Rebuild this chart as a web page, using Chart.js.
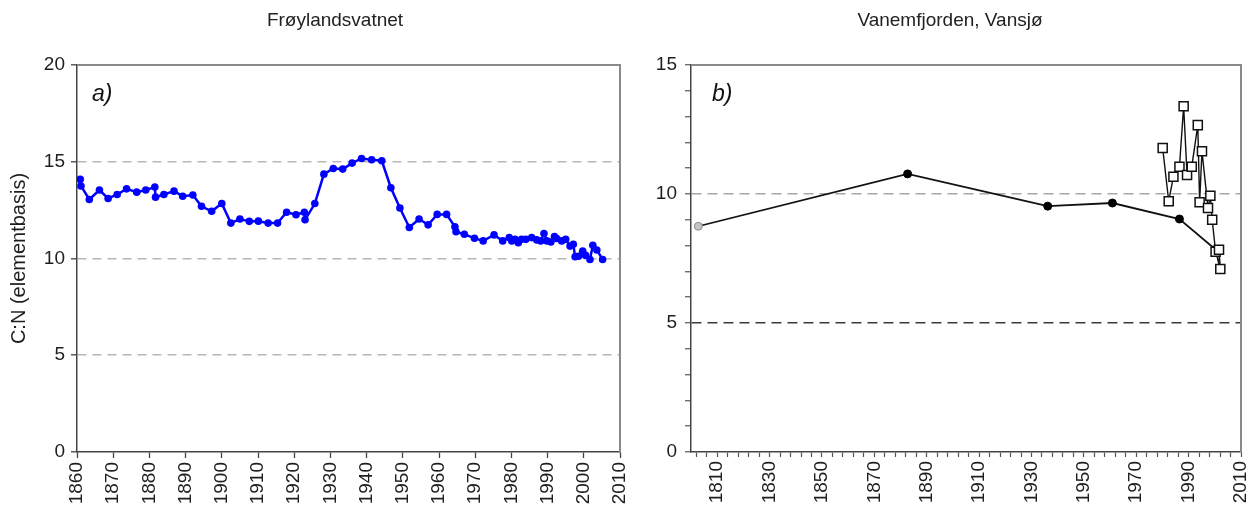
<!DOCTYPE html>
<html><head><meta charset="utf-8">
<script src="https://cdn.jsdelivr.net/npm/chart.js@4.4.1/dist/chart.umd.min.js"></script>
<style>
html,body{margin:0;padding:0;background:#fff;}
#wrap{position:relative;width:1249px;height:510px;overflow:hidden;background:#fff;}
canvas{position:absolute;top:0;}
#ca{left:0;}
#cb{left:630px;}
.ttl{position:absolute;top:9px;width:300px;text-align:center;font-family:'Liberation Sans',Arial,sans-serif;font-size:19px;line-height:22px;color:#222;}
.lbl{position:absolute;font-family:'Liberation Sans',Arial,sans-serif;font-style:italic;font-size:23px;line-height:26px;color:#111;}
</style></head><body>
<div id="wrap">
<canvas id="ca" width="630" height="510"></canvas>
<canvas id="cb" width="619" height="510"></canvas>
<div class="ttl" style="left:185px">Frøylandsvatnet</div>
<div class="ttl" style="left:800px">Vanemfjorden, Vansjø</div>
<div class="lbl" style="left:92px;top:80px">a)</div>
<div class="lbl" style="left:712px;top:80px">b)</div>
</div>
<script>
// ---- Data: panel a) Frøylandsvatnet ----
const yearsA = [1860.9,1861.1,1863.4,1866.2,1868.6,1871.1,1873.7,1876.5,1879.0,1881.5,1881.7,1884.0,1886.8,1889.2,1892.0,1894.4,1897.2,1900.0,1902.5,1905.0,1907.6,1910.1,1912.8,1915.4,1917.9,1920.5,1922.8,1923.0,1925.7,1928.2,1930.8,1933.4,1936.0,1938.6,1941.4,1944.2,1946.7,1949.2,1951.8,1954.5,1957.0,1959.5,1962.1,1964.4,1964.7,1967.0,1969.8,1972.2,1975.2,1977.6,1979.4,1980.1,1981.0,1981.9,1982.8,1984.0,1985.6,1987.0,1988.1,1989.0,1989.8,1990.9,1991.9,1992.5,1993.9,1995.0,1996.2,1997.1,1997.6,1998.5,1999.7,2000.5,2001.7,2002.5,2003.6,2005.2];
const cnA = [14.09,13.75,13.05,13.54,13.10,13.31,13.60,13.43,13.54,13.69,13.17,13.31,13.48,13.22,13.28,12.70,12.44,12.84,11.83,12.04,11.92,11.93,11.83,11.83,12.39,12.26,12.39,12.00,12.84,14.36,14.65,14.62,14.93,15.17,15.10,15.05,13.66,12.61,11.60,12.04,11.74,12.28,12.28,11.64,11.38,11.25,11.05,10.91,11.22,10.91,11.08,10.91,10.99,10.82,10.99,10.99,11.08,10.96,10.91,11.29,10.91,10.85,11.13,11.03,10.91,10.99,10.64,10.73,10.09,10.12,10.38,10.16,9.95,10.68,10.44,9.95];

// ---- Data: panel b) Vanemfjorden, Vansjø ----
const yearsB1 = [1802.8,1882.7,1936.2,1960.9,1986.5,2000.3,2002.1];
const cnB1 = [8.75,10.78,9.53,9.65,9.03,7.85,7.09];
const yearsB2 = [1980.1,1982.4,1984.2,1986.5,1988.1,1989.4,1991.2,1993.5,1994.2,1995.1,1997.4,1998.3,1999.0,2000.3,2001.6,2002.1];
const cnB2 = [11.78,9.72,10.67,11.06,13.40,10.74,11.06,12.67,9.68,11.66,9.46,9.93,9.00,7.76,7.84,7.09];

// ---- Axis settings ----
const xRangeA = [1860, 2010], xStepA = 10;
const yRangeA = [0, 20], yStepA = 5;
const gridA = [5, 10, 15];
const xRangeB = [1800, 2010], xMinorStartB = 1802, xMinorStepB = 4, xLabelStartB = 1810, xLabelStepB = 20;
const yRangeB = [0, 15], yMinorStepB = 1, yLabelStepB = 5;
const gridLightB = [10], gridDarkB = [5];

Chart.defaults.font.family = "'Liberation Sans', Arial, sans-serif";
Chart.defaults.font.size = 19;
Chart.defaults.color = '#1e1e1e';

const framePlugin = {
  id: 'frame',
  beforeDatasetsDraw(chart, args, opts) {
    const {ctx, chartArea: a} = chart;
    ctx.save();
    ctx.strokeStyle = opts.color || '#888';
    ctx.lineWidth = opts.width || 2;
    ctx.beginPath();
    ctx.moveTo(a.left, a.top);
    ctx.lineTo(a.right, a.top);
    ctx.lineTo(a.right, a.bottom);
    ctx.stroke();
    ctx.restore();
  }
};

const fixY = w => s => { s.width = w; s.paddingTop = 0; s.paddingBottom = 0; };
const fixX = h => s => { s.height = h; s.paddingLeft = 0; s.paddingRight = 0; };

const toXY = (xs, ys) => xs.map((x, i) => ({x, y: ys[i]}));

new Chart(document.getElementById('ca'), {
  type: 'line',
  data: {
    datasets: [{
      data: toXY(yearsA, cnA),
      borderColor: '#0000ff',
      backgroundColor: '#0000ff',
      borderWidth: 2.5,
      pointRadius: 3.8,
      pointBorderWidth: 0,
      pointBackgroundColor: '#0000ff',
      tension: 0,
      fill: false
    }]
  },
  options: {
    responsive: false,
    animation: false,
    events: [],
    layout: {padding: {top: 65, right: 10, left: 0, bottom: 0}},
    plugins: {legend: {display: false}, tooltip: {enabled: false}, frame: {color: '#8a8a8a', width: 2}},
    scales: {
      x: {
        type: 'linear', min: xRangeA[0], max: xRangeA[1],
        ticks: {stepSize: xStepA, maxRotation: 90, minRotation: 90, padding: 4, autoSkip: false,
          callback: v => String(v)},
        grid: {drawOnChartArea: false, drawTicks: true, tickLength: 6, tickColor: '#444', tickWidth: 1.3},
        border: {color: '#444', width: 1.5},
        afterFit: fixX(58)
      },
      y: {
        type: 'linear', min: yRangeA[0], max: yRangeA[1],
        ticks: {stepSize: yStepA, padding: 6},
        grid: {
          color: c => gridA.includes(c.tick.value) ? '#b8b8b8' : 'rgba(0,0,0,0)',
          lineWidth: 1.6, tickLength: 6, tickColor: '#444', tickWidth: 1.3, tickBorderDash: []
        },
        border: {color: '#444', width: 1.5, dash: [9, 6]},
        title: {display: true, text: 'C:N (elementbasis)', font: {size: 20}, padding: {top: 7, bottom: 0}, color: '#1e1e1e'},
        afterFit: fixY(77)
      }
    }
  },
  plugins: [framePlugin]
});

new Chart(document.getElementById('cb'), {
  type: 'line',
  data: {
    datasets: [{
      data: toXY(yearsB2, cnB2),
      borderColor: '#111',
      borderWidth: 1.4,
      pointStyle: 'rect',
      pointRadius: 6.4,
      pointBorderWidth: 1.5,
      pointBorderColor: '#111',
      pointBackgroundColor: '#ffffff',
      tension: 0,
      fill: false
    }, {
      data: toXY(yearsB1, cnB1),
      borderColor: '#111',
      borderWidth: 1.8,
      pointRadius: 4,
      pointBorderWidth: 1,
      pointBorderColor: yearsB1.map((_, i) => i === 0 ? '#8a8a8a' : '#000'),
      pointBackgroundColor: yearsB1.map((_, i) => i === 0 ? '#c4c4c4' : '#000'),
      tension: 0,
      fill: false
    }]
  },
  options: {
    responsive: false,
    animation: false,
    events: [],
    layout: {padding: {top: 65, right: 8, left: 0, bottom: 0}},
    plugins: {legend: {display: false}, tooltip: {enabled: false}, frame: {color: '#8a8a8a', width: 2}},
    scales: {
      x: {
        type: 'linear', min: xRangeB[0], max: xRangeB[1],
        afterBuildTicks: s => {
          const t = [];
          for (let v = xMinorStartB; v <= xRangeB[1]; v += xMinorStepB) t.push({value: v});
          s.ticks = t;
        },
        ticks: {maxRotation: 90, minRotation: 90, padding: 4, autoSkip: false,
          callback: v => ((v - xLabelStartB) % xLabelStepB === 0 ? String(v) : '')},
        grid: {drawOnChartArea: false, drawTicks: true, tickLength: 5, tickColor: '#555', tickWidth: 1.2},
        border: {color: '#444', width: 1.5},
        afterFit: fixX(58)
      },
      y: {
        type: 'linear', min: yRangeB[0], max: yRangeB[1],
        ticks: {stepSize: yMinorStepB, padding: 8, autoSkip: false,
          callback: v => (v % yLabelStepB === 0 ? String(v) : '')},
        grid: {
          color: c => gridLightB.includes(c.tick.value) ? '#a8a8a8' : (gridDarkB.includes(c.tick.value) ? '#3a3a3a' : 'rgba(0,0,0,0)'),
          lineWidth: 1.5, tickLength: 6, tickColor: '#555', tickWidth: 1.2, tickBorderDash: []
        },
        border: {color: '#444', width: 1.5, dash: [10, 6]},
        afterFit: fixY(61)
      }
    }
  },
  plugins: [framePlugin]
});
</script>
</body></html>
